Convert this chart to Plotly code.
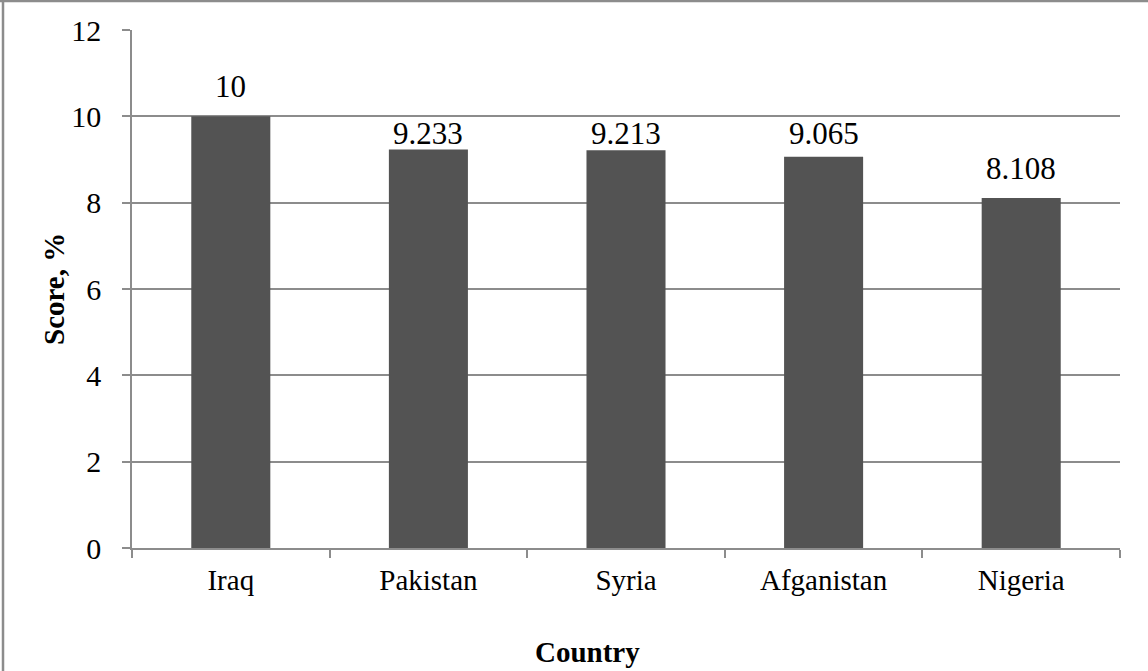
import plotly.graph_objects as go

countries = ["Iraq", "Pakistan", "Syria", "Afganistan", "Nigeria"]
scores = [10, 9.233, 9.213, 9.065, 8.108]
labels = ["10", "9.233", "9.213", "9.065", "8.108"]
y_ticks = [0, 2, 4, 6, 8, 10, 12]

label_shift = [10, -4, -3, 4, 10]

FONT = "Liberation Serif"
GRID = "#8c8c8c"

fig = go.Figure()
fig.add_trace(go.Bar(
    x=countries, y=scores,
    marker=dict(color="#535353", line=dict(width=0)),
    width=0.4,
    hoverinfo="x+y",
))

annotations = []
for c, v, t, s in zip(countries, scores, labels, label_shift):
    annotations.append(dict(x=c, y=v, xref="x", yref="y", text=t, showarrow=False,
                            yanchor="bottom", yshift=s,
                            font=dict(family=FONT, size=31, color="#000")))

annotations.append(dict(x=(54 - 132) / 988, y=0.5, xref="paper", yref="paper",
                        text="<b>Score, %</b>", textangle=-90, showarrow=False,
                        xanchor="center", yanchor="middle",
                        font=dict(family=FONT, size=29, color="#000")))
annotations.append(dict(x=0.461, y=(548 - 652) / 518, xref="paper", yref="paper",
                        text="<b>Country</b>", showarrow=False,
                        xanchor="center", yanchor="middle",
                        font=dict(family=FONT, size=29, color="#000")))

shapes = [
    dict(type="line", xref="paper", yref="paper",
         x0=(3 - 132) / 988, x1=(3 - 132) / 988, y0=-0.3, y1=1.1,
         line=dict(color=GRID, width=2.5)),
    dict(type="line", xref="paper", yref="paper",
         x0=-0.2, x1=1.1, y0=(548 - 1) / 518, y1=(548 - 1) / 518,
         line=dict(color=GRID, width=2.5)),
]

fig.update_layout(
    width=1148, height=671,
    margin=dict(l=132, r=28, t=30, b=123),
    paper_bgcolor="white", plot_bgcolor="white",
    showlegend=False,
    font=dict(family=FONT, size=29, color="#000"),
    annotations=annotations,
    shapes=shapes,
    bargap=0.6,
)
fig.update_xaxes(
    type="category",
    showline=True, linecolor=GRID, linewidth=1.5,
    ticks="outside", tickson="boundaries", ticklen=8, tickcolor=GRID, tickwidth=1.5,
    ticklabelstandoff=5,
    tickfont=dict(family=FONT, size=29, color="#000"),
    showgrid=False,
)
fig.update_yaxes(
    range=[0, 12], tickvals=y_ticks, ticktext=[str(v) for v in y_ticks],
    showline=True, linecolor=GRID, linewidth=1.5,
    ticks="outside", ticklen=8, tickcolor=GRID, tickwidth=1.5,
    ticklabelstandoff=15,
    showgrid=True, gridcolor=GRID, gridwidth=1.5,
    zeroline=False,
    tickfont=dict(family=FONT, size=30, color="#000"),
)

fig.write_html("out.html", config={"displayModeBar": False},
               post_script="document.body.style.margin='0px';document.body.style.overflow='hidden';")
